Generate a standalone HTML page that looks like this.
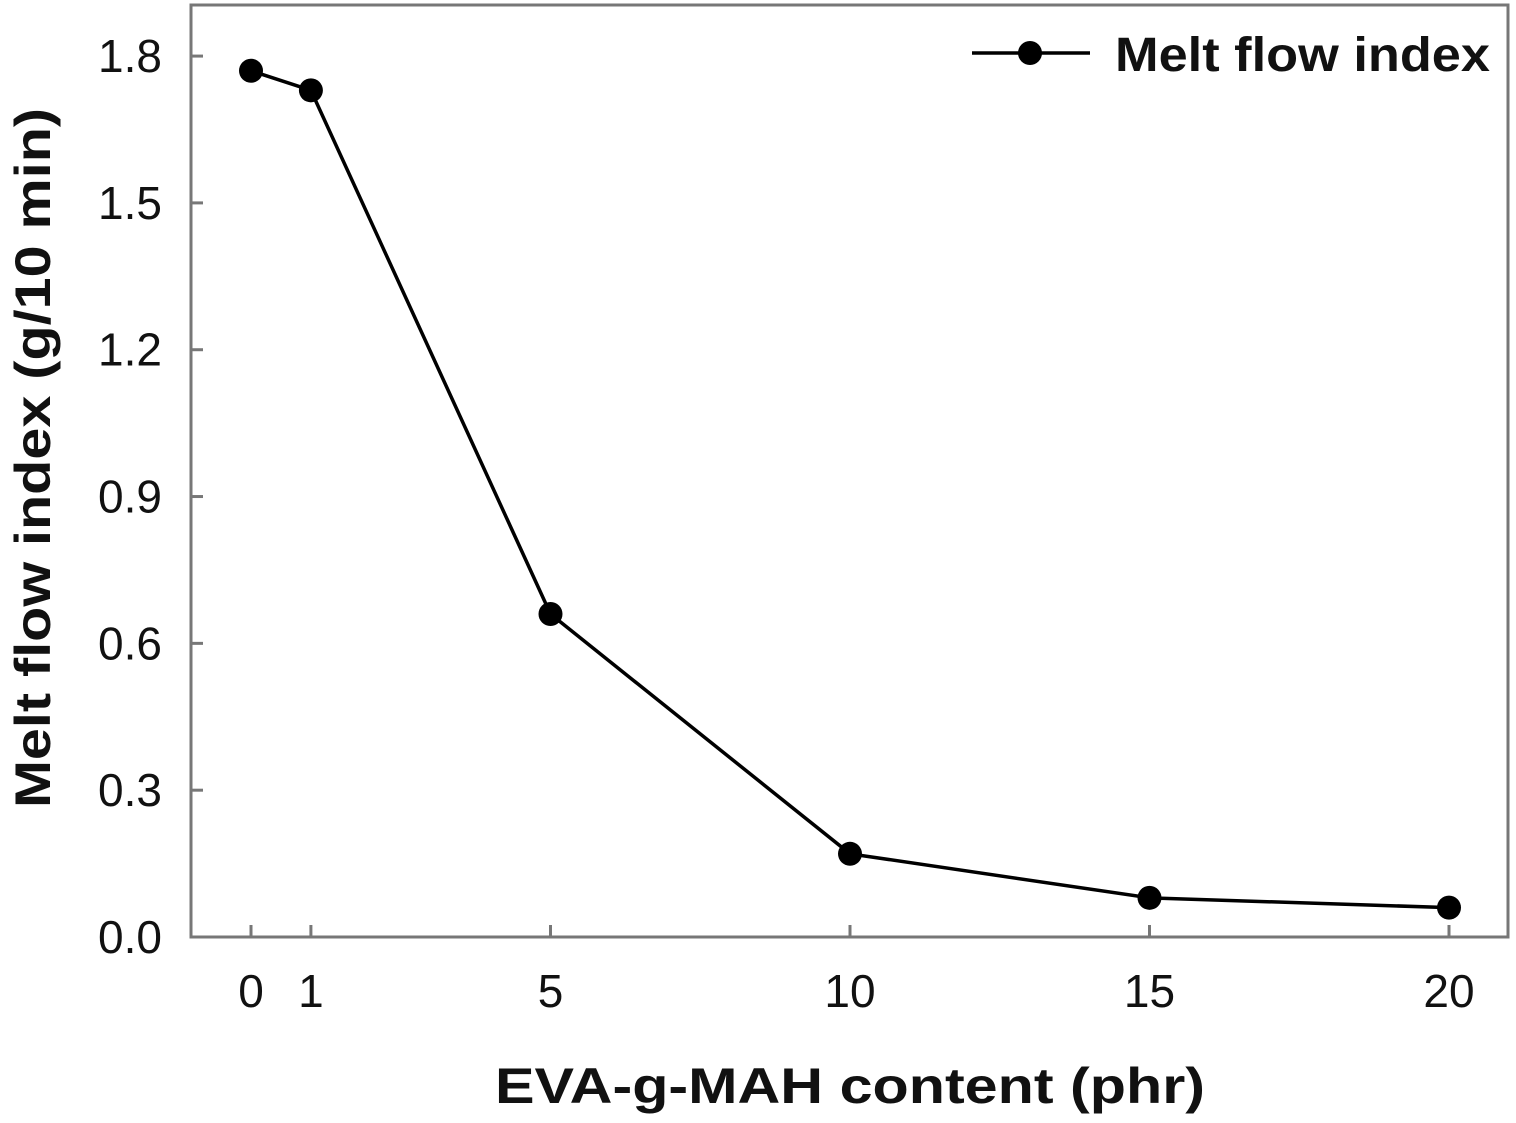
<!DOCTYPE html>
<html><head><meta charset="utf-8"><style>
body{margin:0;background:#fff;}
svg text{font-family:"Liberation Sans",Arial,sans-serif;fill:#111;}
</style></head><body>
<svg id="chart" width="1516" height="1118" xmlns="http://www.w3.org/2000/svg">
<rect x="191" y="5" width="1317" height="932" fill="none" stroke="#777" stroke-width="3"/>
<g id="axes"></g>
<polyline id="line" fill="none" stroke="#000" stroke-width="3.5"/>
<g id="pts"></g>
<text x="495" y="1103" font-size="50" font-weight="bold" textLength="710" lengthAdjust="spacingAndGlyphs">EVA-g-MAH content (phr)</text>
<text transform="translate(50,808) rotate(-90)" font-size="50" font-weight="bold" textLength="700" lengthAdjust="spacingAndGlyphs">Melt flow index (g/10 min)</text>
<g>
<line x1="972" y1="53" x2="1090" y2="53" stroke="#000" stroke-width="3.5"/>
<circle cx="1030" cy="53" r="12" fill="#000"/>
<text x="1115" y="71" font-size="48" font-weight="bold" textLength="375" lengthAdjust="spacingAndGlyphs">Melt flow index</text>
</g>
</svg>
<script>
const xValues=[0,1,5,10,15,20];
const yValues=[1.77,1.73,0.66,0.17,0.08,0.06];
const xTicks=[0,1,5,10,15,20];
const yTicks=["0.0","0.3","0.6","0.9","1.2","1.5","1.8"];
const NS="http://www.w3.org/2000/svg";
function sx(v){return 251+v*59.9;}
function sy(v){return 937-v*489.4;}
const axes=document.getElementById('axes');
function mk(t,a,p){const e=document.createElementNS(NS,t);for(const k in a)e.setAttribute(k,a[k]);p.appendChild(e);return e;}
xTicks.forEach(v=>{
 const l=mk('line',{x1:sx(v),x2:sx(v),y1:937,y2:925,stroke:'#777','stroke-width':3},axes);
 
 
 const t=mk('text',{x:sx(v),y:1007,'font-size':46,'text-anchor':'middle'},axes);
 t.textContent=v;
 
 
});
yTicks.forEach(s=>{
 const v=parseFloat(s);
 const l=mk('line',{x1:191,x2:203,y1:sy(v),y2:sy(v),stroke:'#777','stroke-width':3},axes);
 
 
 const t=mk('text',{x:162,y:sy(v)+16,'font-size':46,'text-anchor':'end'},axes);
 t.textContent=s;
 
 
});
document.getElementById('line').setAttribute('points',xValues.map((x,i)=>sx(x)+','+sy(yValues[i])).join(' '));
const pts=document.getElementById('pts');
xValues.forEach((x,i)=>{
 const c=mk('circle',{cx:sx(x),cy:sy(yValues[i]),r:12,fill:'#000'},pts);
 
 
});
</script>
</body></html>
